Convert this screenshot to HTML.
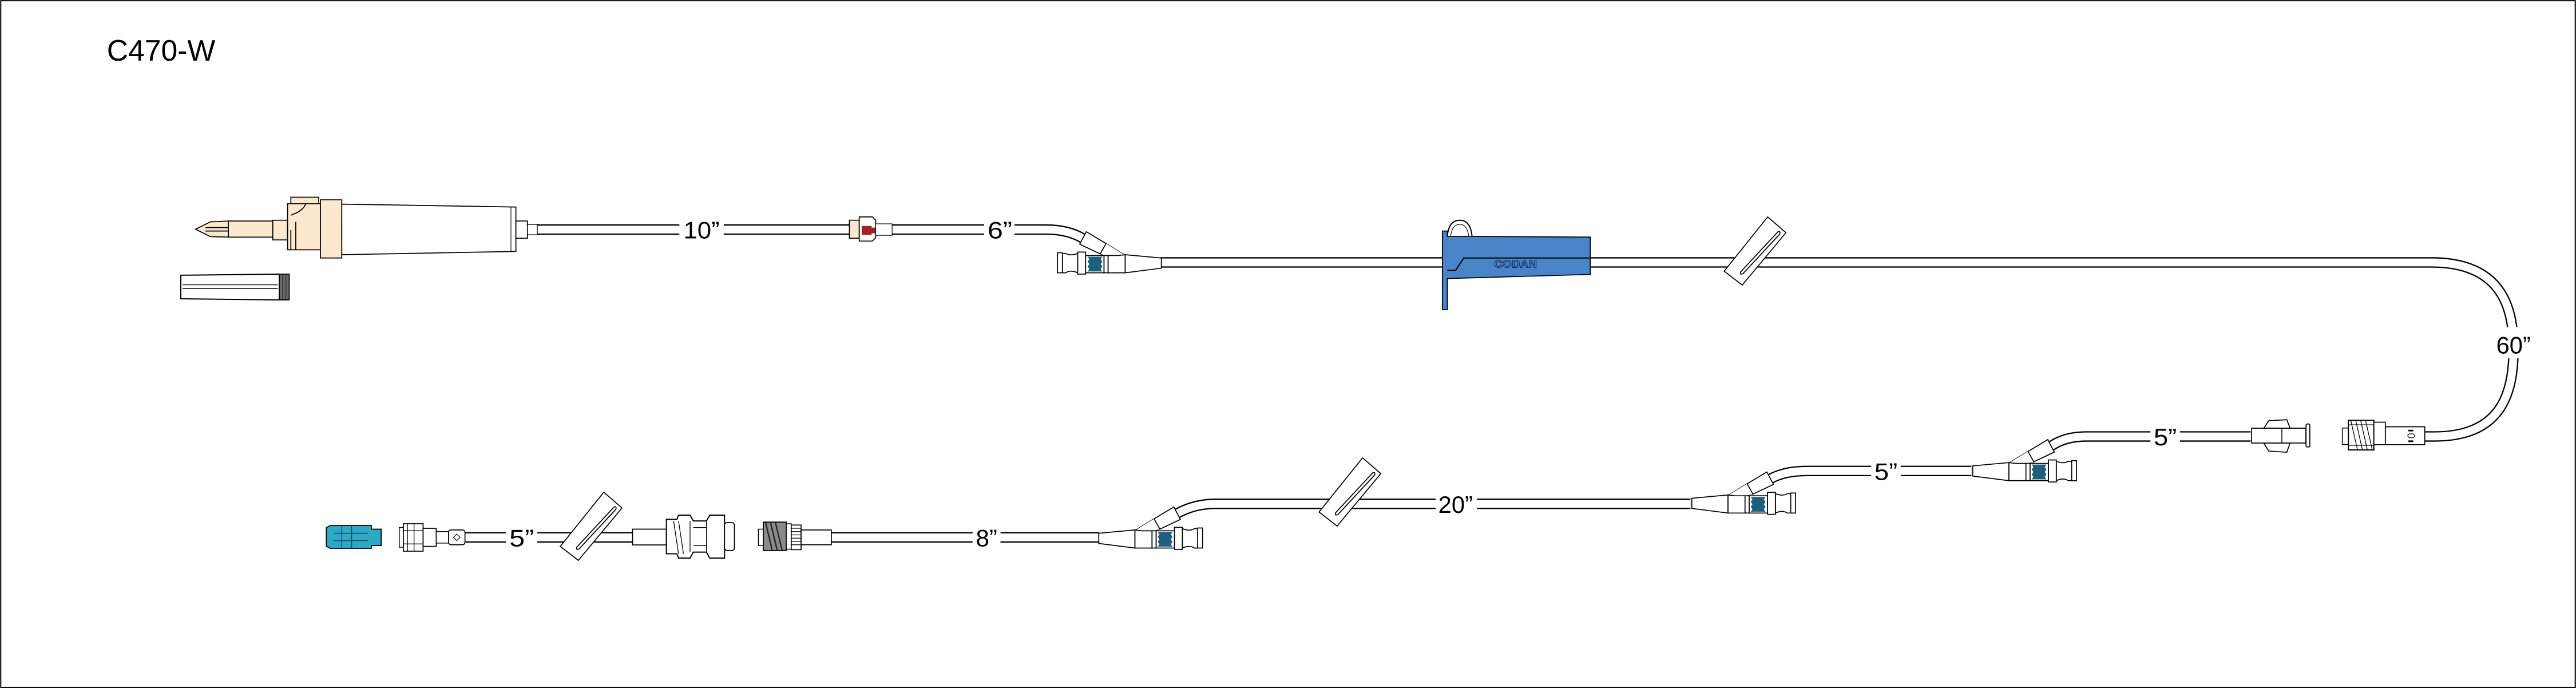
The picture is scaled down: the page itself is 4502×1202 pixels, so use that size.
<!DOCTYPE html>
<html><head><meta charset="utf-8"><style>
html,body{margin:0;padding:0;background:#fff;}
svg{display:block;}
text{font-family:"Liberation Sans",Arial,sans-serif;}
</style></head><body>
<svg width="4502" height="1202" viewBox="0 0 1568 418.67" xmlns="http://www.w3.org/2000/svg">
<defs>
<g id="ysite">
  <!-- arm -->
  <path d="M29.5,-11.8 L41.5,-4.5 M26,-5.5 L31,-4.5" stroke="#000" stroke-width="0.6" fill="none"/>
  <polygon points="29.5,-11.8 41.5,-4.5 30,-4.5 26,-5.5" fill="#fff"/>
  <polygon points="13.5,-11.4 17.5,-19 29.5,-11.8 26,-5.5" fill="#fff" stroke="#000" stroke-width="0.6"/>
  <!-- luer -->
  <rect x="0" y="-6.2" width="3" height="12.2" fill="#fff" stroke="#000" stroke-width="0.6"/>
  <path d="M3,-5.8 L5,-5.8 Q8,-4 12.3,-5.8 L12.3,6 Q8,4 5,6 L3,6 Z" fill="#fff" stroke="#000" stroke-width="0.6"/>
  <rect x="12.3" y="-6.6" width="4.8" height="13.4" fill="#fff" stroke="#000" stroke-width="0.6"/>
  <rect x="17.1" y="-4.5" width="11.2" height="10.5" fill="#fff" stroke="#000" stroke-width="0.6"/>
  <path d="M18.3,-3.8 L27.3,-3.8 L26.3,-2.3 L27.3,-0.8 L26.3,0.7 L27.3,2.2 L26.3,3.7 L27.3,5.2 L18.3,5.2 L19.3,3.7 L18.3,2.2 L19.3,0.7 L18.3,-0.8 L19.3,-2.3 Z" fill="#1d5f7c"/>
  <rect x="28.3" y="-4.5" width="2.5" height="10.5" fill="#fff" stroke="#000" stroke-width="0.6"/>
  <path d="M30.8,-4.5 L37,-4.5 L41.2,-5 L41.2,6 L30.8,6 Z" fill="#fff" stroke="#000" stroke-width="0.6"/>
  <path d="M41.2,-5 L63.2,-3 L63.2,3.2 L41.2,6 Z" fill="#fff" stroke="#000" stroke-width="0.6"/>
</g>
<g id="diamond">
  <polygon points="0,0 11.1,9.6 -15.5,41.5 -26.5,33" fill="#fff" stroke="#000" stroke-width="0.6"/>
  <path d="M6.3,9 Q8,8.5 7.3,10.5 L-15,34.5 Q-17,35.5 -16.5,33.5 Z" fill="#fff" stroke="#000" stroke-width="0.6"/>
</g>
</defs>

<rect x="0.4" y="0.4" width="1567.2" height="417.9" fill="#fff" stroke="#000" stroke-width="0.7"/>
<text x="65" y="37" font-size="18">C470-W</text>

<!-- TUBES -->
<g fill="none" stroke-linejoin="round">
  <path id="t1" d="M327,139.7 L637,139.7 Q650,139.7 659,145"/>
  <path id="t2" d="M706,159.7 L1480,159.7 C1525,159.7 1530,190 1530,213 C1530,240 1522,265.6 1482,265.6 L1475,265.6"/>
  <path id="t3" d="M1370,265.6 L1270,265.6 Q1257,265.6 1248.5,271.5"/>
  <path id="t4" d="M1200,286.6 L1100,286.6 Q1086,286.6 1077.5,291.5"/>
  <path id="t5" d="M1029,306.6 L740,306.6 Q727,306.6 716.5,312.5"/>
  <path id="t6" d="M669,327 L506,327"/>
  <path id="t7" d="M385,327 L283,327"/>
</g>
<g fill="none" stroke="#000" stroke-width="6.4">
  <use href="#t1"/><use href="#t2"/><use href="#t3"/><use href="#t4"/><use href="#t5"/><use href="#t6"/><use href="#t7"/>
</g>
<g fill="none" stroke="#fff" stroke-width="4.8">
  <use href="#t1"/><use href="#t2"/><use href="#t3"/><use href="#t4"/><use href="#t5"/><use href="#t6"/><use href="#t7"/>
</g>

<!-- LABELS -->
<g font-size="14.5" text-anchor="middle">
  <rect x="413.5" y="135" width="27" height="10" fill="#fff"/>
  <text x="427" y="145" textLength="22" lengthAdjust="spacingAndGlyphs">10”</text>
  <rect x="599" y="135" width="18.5" height="10" fill="#fff"/>
  <text x="608.6" y="145" textLength="15" lengthAdjust="spacingAndGlyphs">6”</text>
  <rect x="1518" y="199" width="24" height="19" fill="#fff"/>
  <text x="1530" y="215" textLength="21" lengthAdjust="spacingAndGlyphs">60”</text>
  <rect x="1309" y="261" width="18" height="10" fill="#fff"/>
  <text x="1318" y="271" textLength="14" lengthAdjust="spacingAndGlyphs">5”</text>
  <rect x="1139" y="282" width="18" height="10" fill="#fff"/>
  <text x="1148" y="292" textLength="14" lengthAdjust="spacingAndGlyphs">5”</text>
  <rect x="874" y="302" width="25" height="10" fill="#fff"/>
  <text x="886" y="312" textLength="21" lengthAdjust="spacingAndGlyphs">20”</text>
  <rect x="592" y="322" width="17" height="10" fill="#fff"/>
  <text x="600.5" y="332.5" textLength="13" lengthAdjust="spacingAndGlyphs">8”</text>
  <rect x="308" y="322" width="19" height="10" fill="#fff"/>
  <text x="317.5" y="332.5" textLength="15" lengthAdjust="spacingAndGlyphs">5”</text>
</g>

<!-- SPIKE + DRIP CHAMBER -->
<g stroke="#000" stroke-width="0.6" fill="#fbe8cf">
  <path d="M119,139.5 L128,135 L139,134.5 L139,144.3 L128,144 Z"/>
  <path d="M125,138.5 L139,138.5 M125,140.6 L139,140.6" fill="none"/>
  <rect x="139" y="134.5" width="27" height="9.8"/>
  <rect x="166" y="134" width="9" height="12"/>
  <rect x="177" y="120" width="17" height="6"/>
  <rect x="175" y="124" width="20" height="28"/>
  <path d="M177,131 Q185,128 186,124 M177,140 L177,152 M180,135 L180,152" fill="none"/>
  <rect x="195" y="121.6" width="13" height="35.4"/>
  <rect x="208" y="134" width="3" height="11"/>
</g>
<polygon points="208,124.2 314,126 314,153 208,155" fill="#fff" stroke="#000" stroke-width="0.6"/>
<line x1="311" y1="126" x2="311" y2="153" stroke="#000" stroke-width="0.4"/>
<rect x="314" y="134.5" width="7" height="10.5" fill="#fff" stroke="#000" stroke-width="0.6"/>
<rect x="321" y="136.5" width="6" height="6.4" fill="#fff" stroke="#000" stroke-width="0.5"/>

<!-- spike cap -->
<path d="M110,167.5 L170,166.8 L170,182.5 L110,181.8 Z" fill="#fff" stroke="#000" stroke-width="0.7"/>
<path d="M111,173.3 L169,173.3 M111,175.6 L169,175.6" stroke="#000" stroke-width="0.5"/>
<rect x="170" y="166.8" width="6" height="15.7" fill="#6a6a6a" stroke="#000" stroke-width="0.6"/>
<path d="M172,167 L172,182.3 M174,167 L174,182.3" stroke="#222" stroke-width="0.4"/>

<!-- small connector top -->
<rect x="517" y="134" width="6" height="11" fill="#fbe8cf" stroke="#000" stroke-width="0.6"/>
<path d="M523,132 L531,132 L533,134 L533,144.7 L531,146.7 L523,146.7 Z" fill="#fff" stroke="#000" stroke-width="0.6"/>
<rect x="524.5" y="137.5" width="6" height="5.5" fill="#a3222a"/>
<rect x="530" y="138.5" width="3" height="3.5" fill="#a3222a"/>
<rect x="533" y="136.2" width="10" height="7" fill="#fff" stroke="#000" stroke-width="0.4"/>

<!-- Y-sites -->
<use href="#ysite" transform="translate(643.7,160)"/>
<use href="#ysite" transform="translate(1264,286.5) scale(-1,1)"/>
<use href="#ysite" transform="translate(1093,306.2) scale(-1,1)"/>
<use href="#ysite" transform="translate(732,327.5) scale(-1,1)"/>

<!-- Roller clamp (blue) -->
<path d="M881,143.5 Q882,134 888.5,134 Q895,134 896,143.5" fill="none" stroke="#000" stroke-width="0.7"/>
<path d="M883,143.5 Q884,136.5 888.5,136.5 Q893,136.5 894,143.5" fill="none" stroke="#000" stroke-width="0.4"/>
<polygon points="878,140.6 881,140.6 881,143.8 968,144.3 968,167 881,169.5 881,188.5 878,188.5" fill="#4a84c8" stroke="#000" stroke-width="0.6"/>
<path d="M881,164.5 L886,164.5 L891,157 L968,157" fill="none" stroke="#000" stroke-width="0.7"/>
<text x="922.5" y="162.8" font-size="6.4" font-weight="bold" text-anchor="middle" fill="#4a84c8" stroke="#0d2a55" stroke-width="0.35" textLength="26" lengthAdjust="spacingAndGlyphs">CODAN</text>

<!-- slide clamps -->
<use href="#diamond" transform="translate(1076,132)"/>
<use href="#diamond" transform="translate(829.4,278.6)"/>
<use href="#diamond" transform="translate(367.5,299.5)"/>

<!-- right side: wings + male luer lock -->
<path d="M1378,260.6 L1381,256 L1392,255.4 L1394,260.6 Z M1378,269.6 L1381,274.5 L1392,275.2 L1394,269.6 Z" fill="#fff" stroke="#000" stroke-width="0.6"/>
<rect x="1370.6" y="260.6" width="33" height="9" fill="#fff" stroke="#000" stroke-width="0.6"/>
<line x1="1389" y1="260.6" x2="1389" y2="269.6" stroke="#000" stroke-width="0.5"/>
<rect x="1403.7" y="258" width="2.3" height="14" rx="0.8" fill="#fff" stroke="#000" stroke-width="0.6"/>
<rect x="1425.8" y="260.5" width="3.7" height="10" fill="#fff" stroke="#000" stroke-width="0.5"/>
<rect x="1429.5" y="255.8" width="15.5" height="18" fill="#fff" stroke="#000" stroke-width="0.7"/>
<path d="M1431,256 L1435,273.6 M1434,256 L1438,273.6 M1437,256 L1441,273.6 M1440,256 L1444,273.6 M1429.5,258.5 L1445,258.5 M1429.5,271 L1445,271" stroke="#000" stroke-width="0.45"/>
<rect x="1445" y="256.9" width="7" height="13.7" fill="#fff" stroke="#000" stroke-width="0.6"/>
<rect x="1452" y="259.7" width="24" height="10.9" fill="#fff" stroke="#000" stroke-width="0.6"/>
<rect x="1466" y="261.5" width="3" height="1" fill="#000"/>
<rect x="1466" y="268" width="3" height="1" fill="#000"/>
<path d="M1465.5,265.2 L1466.5,264 L1469,264 L1470,265.2 L1469,266.4 L1466.5,266.4 Z" fill="#fff" stroke="#000" stroke-width="0.4"/>

<!-- bottom-left components -->
<!-- cyan cap -->
<path d="M198.6,321 L201,319.8 L226,319.8 L226,322 L232,322 L232,332 L226,332 L226,333.7 L201,333.7 L198.6,332.5 Z" fill="#2ea8c6" stroke="#000" stroke-width="0.6"/>
<path d="M203,324.5 L224,324.5 M203,329 L224,329 M208,320 L208,333.5 M214,320 L214,333.5" stroke="#0b4b5c" stroke-width="0.5" fill="none"/>
<!-- female connector -->
<rect x="243" y="321" width="2.5" height="12" fill="#fff" stroke="#000" stroke-width="0.5"/>
<rect x="245.5" y="318.7" width="12" height="16.7" fill="#fff" stroke="#000" stroke-width="0.6"/>
<path d="M248,318.7 L248,335.4 M252,318.7 L252,335.4 M245.5,323 L257.5,323 M245.5,331 L257.5,331" stroke="#000" stroke-width="0.45"/>
<rect x="257.5" y="321.5" width="8" height="11" fill="#fff" stroke="#000" stroke-width="0.6"/>
<rect x="265.5" y="323.5" width="7.5" height="7" fill="#fff" stroke="#000" stroke-width="0.5"/>
<rect x="273" y="322.5" width="10" height="9" rx="1.5" fill="#fff" stroke="#000" stroke-width="0.6"/>
<path d="M276,327 L278,325 L280,327 L278,329 Z" fill="none" stroke="#000" stroke-width="0.4"/>
<!-- male connector with wings -->
<rect x="385" y="322" width="20.6" height="9.6" fill="#fff" stroke="#000" stroke-width="0.6"/>
<path d="M405.6,316 L412,316 L413,313.5 L420,313.5 L422,317 L430,317 L432,313.5 L441,313.5 L441,339.6 L432,339.6 L430,336 L422,336 L420,339.6 L413,339.6 L412,337 L405.6,337 Z" fill="#fff" stroke="#000" stroke-width="0.7"/>
<path d="M410,317 L413,337 M413,317 L416,337 M420,317 L420,336 M430,317 L430,336 M422,321 L430,321 M422,332 L430,332" stroke="#000" stroke-width="0.45"/>
<rect x="441" y="318" width="6" height="17" rx="1.5" fill="#fff" stroke="#000" stroke-width="0.6"/>
<!-- luer lock connector -->
<rect x="461.6" y="322" width="3" height="10" fill="#fff" stroke="#000" stroke-width="0.5"/>
<rect x="464.6" y="317.7" width="14" height="17.3" fill="#8a8a8a" stroke="#000" stroke-width="0.6"/>
<path d="M466,318 L470,334.7 M469,318 L473,334.7 M472,318 L476,334.7" stroke="#222" stroke-width="0.8"/>
<rect x="478.6" y="318.7" width="3" height="15.5" fill="#fff" stroke="#000" stroke-width="0.5"/>
<rect x="481.6" y="319.5" width="6" height="15" fill="#fff" stroke="#000" stroke-width="0.6"/>
<path d="M481.6,321.5 L487.6,321.5 M481.6,323.5 L487.6,323.5 M481.6,325.5 L487.6,325.5 M481.6,327.5 L487.6,327.5 M481.6,329.5 L487.6,329.5 M481.6,331.5 L487.6,331.5" stroke="#000" stroke-width="0.45"/>
<rect x="487.6" y="322.5" width="18.4" height="9" fill="#fff" stroke="#000" stroke-width="0.6"/>
</svg>
</body></html>
